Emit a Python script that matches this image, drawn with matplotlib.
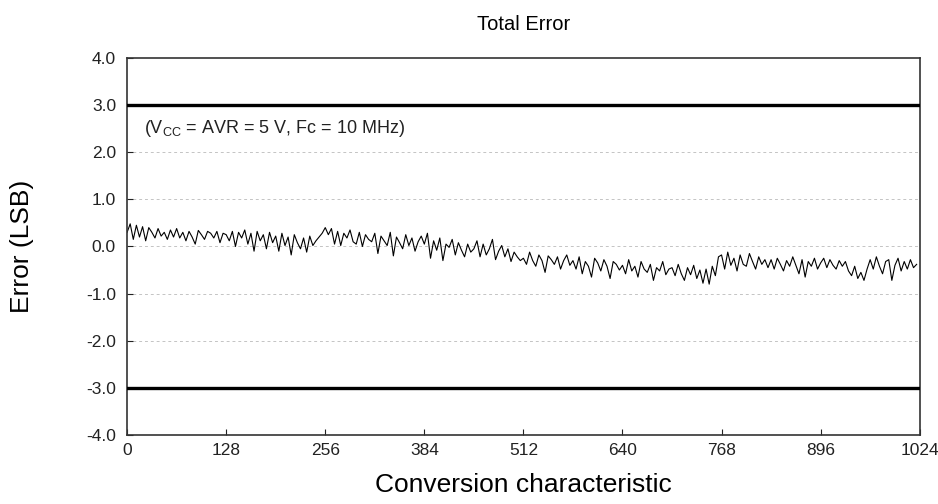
"""
total_error.py
Total Error conversion characteristic (Vcc = AVR = 5 V, Fc = 10 MHz)
"""

import numpy as np
import matplotlib
matplotlib.use('Agg')
import matplotlib.pyplot as plt

plt.rcParams['font.family'] = ['Liberation Sans', 'DejaVu Sans']

# 1. data: error read every 4 codes
codes = np.arange(0, 1024, 4)
error_lsb = [
    0.30, 0.48, 0.15, 0.45, 0.20, 0.42, 0.12, 0.40, 0.30, 0.18, 0.38, 0.22, 0.30, 0.15, 0.35, 0.20,
    0.38, 0.18, 0.30, 0.12, 0.32, 0.20, 0.05, 0.34, 0.25, 0.15, 0.32, 0.28, 0.18, 0.32, 0.08, 0.28,
    0.25, 0.12, 0.32, 0.00, 0.30, 0.18, 0.35, 0.05, 0.28, -0.10, 0.32, 0.12, 0.25, -0.05, 0.30, 0.08,
    0.22, -0.10, 0.28, 0.02, 0.20, -0.18, 0.25, 0.08, -0.05, 0.18, -0.12, 0.22, 0.02, 0.12, 0.20, 0.28,
    0.40, 0.25, 0.38, 0.05, 0.32, 0.02, 0.28, 0.18, 0.35, 0.10, 0.05, 0.30, 0.00, 0.25, 0.15, 0.10,
    0.28, -0.15, 0.22, 0.12, 0.02, 0.30, -0.20, 0.20, 0.08, -0.05, 0.25, 0.02, 0.18, -0.10, 0.10, 0.22,
    0.05, 0.28, -0.25, 0.12, -0.08, 0.18, -0.30, 0.05, -0.02, 0.15, -0.18, 0.08, -0.08, -0.22, 0.05, -0.12,
    -0.05, 0.12, -0.22, 0.05, -0.18, -0.05, 0.15, -0.28, -0.10, 0.02, -0.22, -0.05, -0.32, -0.12, -0.22, -0.30,
    -0.25, -0.38, -0.12, -0.30, -0.42, -0.18, -0.30, -0.55, -0.20, -0.28, -0.38, -0.22, -0.48, -0.30, -0.18, -0.40,
    -0.30, -0.48, -0.22, -0.58, -0.32, -0.42, -0.65, -0.25, -0.35, -0.52, -0.28, -0.42, -0.68, -0.32, -0.38, -0.50,
    -0.40, -0.58, -0.28, -0.52, -0.42, -0.65, -0.32, -0.48, -0.55, -0.38, -0.72, -0.45, -0.52, -0.32, -0.60, -0.48,
    -0.45, -0.62, -0.38, -0.58, -0.72, -0.45, -0.60, -0.40, -0.68, -0.50, -0.78, -0.48, -0.80, -0.42, -0.62, -0.22,
    -0.18, -0.48, -0.12, -0.40, -0.25, -0.52, -0.18, -0.38, -0.42, -0.15, -0.32, -0.48, -0.22, -0.38, -0.28, -0.45,
    -0.28, -0.48, -0.25, -0.38, -0.52, -0.30, -0.42, -0.22, -0.40, -0.58, -0.28, -0.65, -0.32, -0.42, -0.25, -0.48,
    -0.35, -0.25, -0.45, -0.28, -0.40, -0.48, -0.30, -0.42, -0.32, -0.52, -0.62, -0.42, -0.68, -0.55, -0.72, -0.48,
    -0.28, -0.48, -0.22, -0.42, -0.58, -0.32, -0.28, -0.72, -0.40, -0.25, -0.52, -0.32, -0.48, -0.28, -0.45, -0.38,
]
limits = [3.0, -3.0]
x_ticks = [0, 128, 256, 384, 512, 640, 768, 896, 1024]
y_ticks = [-4.0, -3.0, -2.0, -1.0, 0.0, 1.0, 2.0, 3.0, 4.0]

# 2. plot
fig = plt.figure(figsize=(9.38, 5.04), dpi=100)
ax = fig.add_axes([0.1355, 0.137, 0.845, 0.748])

for yv in [-2, -1, 0, 1, 2]:
    ax.axhline(yv, color='#c4c4c4', lw=0.7, ls=(0, (3, 3)), zorder=1)
for yv in limits:
    ax.axhline(yv, color='black', lw=2.4, zorder=3)

ax.plot(codes, error_lsb, color='black', lw=0.8, zorder=2)

ax.set_xlim(0, 1024)
ax.set_ylim(-4, 4)
ax.set_xticks(x_ticks)
ax.set_yticks(y_ticks)
ax.set_yticklabels([f'{v:.1f}' for v in y_ticks])
ax.tick_params(direction='in', length=4, width=0.8, labelsize=12.5, colors='#222222')
ax.tick_params(axis='x', pad=6)
ax.tick_params(axis='y', pad=8)
for s in ax.spines.values():
    s.set_linewidth(1.2)
    s.set_color('#333333')

ax.set_title('Total Error', fontsize=14.5, pad=20)
ax.set_xlabel('Conversion characteristic', fontsize=19)
ax.xaxis.set_label_coords(0.5, -0.10)
ax.set_ylabel('Error (LSB)', fontsize=19)
ax.yaxis.set_label_coords(-0.118, 0.5)

ax.text(22, 2.5, '(V$_{\\mathregular{CC}}$ = AVR = 5 V, Fc = 10 MHz)', fontsize=13,
        ha='left', va='center', color='#222222')

plt.savefig('out.png', dpi=100)
